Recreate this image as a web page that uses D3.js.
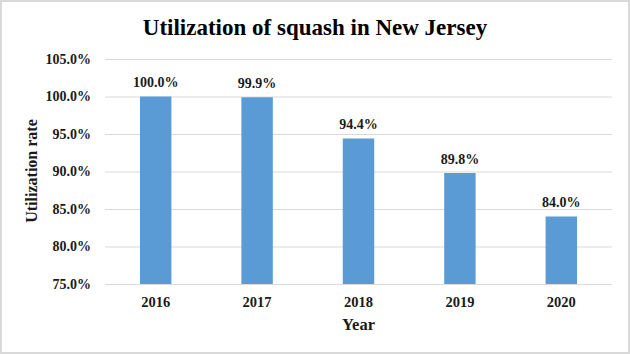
<!DOCTYPE html>
<html><head><meta charset="utf-8">
<script src="https://cdn.jsdelivr.net/npm/d3@7"></script>
<style>html,body{margin:0;padding:0;background:#fff;}svg{display:block;}</style>
</head><body>
<script>
const years = ["2016","2017","2018","2019","2020"];
const utilization = [100.0, 99.9, 94.4, 89.8, 84.0];
const yTicks = [75,80,85,90,95,100,105];
const title = "Utilization of squash in New Jersey";
const yTitle = "Utilization rate";
const xTitle = "Year";

const W = 630, H = 354;
const m = {left:105, right:18, top:59, bottom:70};
const font = "'Liberation Serif','Times New Roman',serif";
const svg = d3.select("body").append("svg").attr("width", W).attr("height", H);
svg.append("rect").attr("x",1).attr("y",1).attr("width",W-2).attr("height",H-2)
  .attr("fill","#fff").attr("stroke","#d9d9d9").attr("stroke-width",2);

const x = d3.scaleBand().domain(years).range([m.left, W-m.right]).paddingInner(0.69).paddingOuter(0.345);
const y = d3.scaleLinear().domain([75,105]).range([284, 59]);

const yAxis = svg.append("g").attr("transform",`translate(${m.left},0)`)
  .call(d3.axisLeft(y).tickValues(yTicks).tickSize(-(W-m.right-m.left)).tickFormat(d=>d.toFixed(1)+"%"));
yAxis.select(".domain").remove();
yAxis.selectAll(".tick line").attr("stroke","#d9d9d9").attr("stroke-width",1);
yAxis.selectAll(".tick text").attr("x",-14).attr("font-family",font).attr("font-weight","bold")
  .attr("font-size",14).attr("fill","#1a1a1a");

svg.append("g").selectAll("rect").data(years).join("rect")
  .attr("x", d=>x(d)).attr("width", x.bandwidth())
  .attr("y", (d,i)=>y(utilization[i])).attr("height",(d,i)=>y(75)-y(utilization[i]))
  .attr("fill","#5b9bd5");

svg.append("g").selectAll("text").data(years).join("text")
  .attr("x", d=>x(d)+x.bandwidth()/2).attr("y",(d,i)=>y(utilization[i])-9.5)
  .attr("text-anchor","middle").attr("font-family",font).attr("font-weight","bold")
  .attr("font-size",14).attr("fill","#1a1a1a").text((d,i)=>utilization[i].toFixed(1)+"%");

const xAxis = svg.append("g").attr("transform",`translate(0,${y(75)})`)
  .call(d3.axisBottom(x).tickSize(0));
xAxis.select(".domain").remove();
xAxis.selectAll(".tick text").attr("dy",0).attr("y",23).attr("font-family",font).attr("font-weight","bold")
  .attr("font-size",14.5).attr("fill","#1a1a1a");

svg.append("text").attr("x",(m.left+W-m.right)/2).attr("y",330).attr("text-anchor","middle")
  .attr("font-family",font).attr("font-weight","bold").attr("font-size",16.5).attr("fill","#1a1a1a").text(xTitle);
svg.append("text").attr("transform","translate(37,171) rotate(-90)").attr("text-anchor","middle")
  .attr("font-family",font).attr("font-weight","bold").attr("font-size",16).attr("fill","#1a1a1a").text(yTitle);
svg.append("text").attr("x",315).attr("y",35).attr("text-anchor","middle")
  .attr("font-family",font).attr("font-weight","bold").attr("font-size",23).attr("fill","#000").text(title);
</script>
</body></html>
